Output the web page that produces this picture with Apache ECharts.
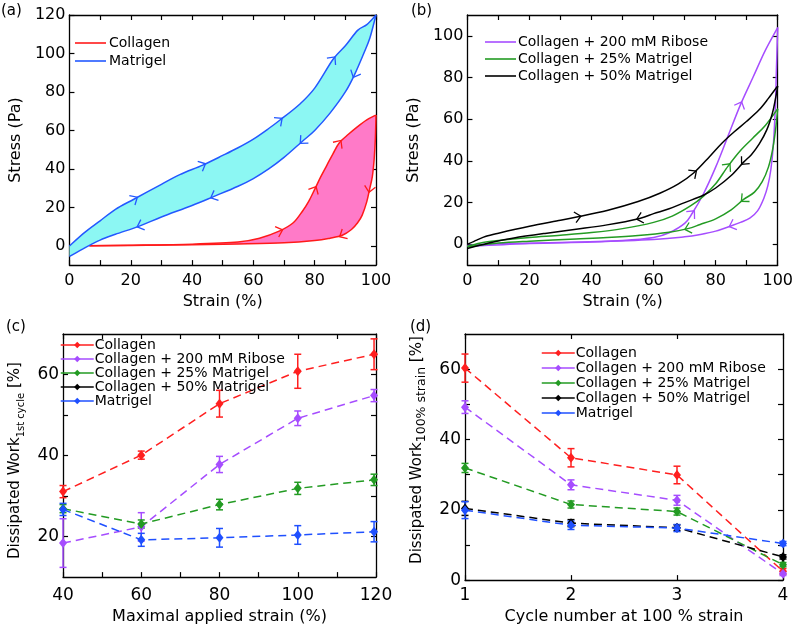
<!DOCTYPE html>
<html><head><meta charset="utf-8">
<script src="https://cdn.jsdelivr.net/npm/echarts@6/dist/echarts.min.js"></script>
<style>
html,body{margin:0;padding:0;background:#fff;}
.p{position:absolute;width:398px;height:315px;}
</style></head>
<body>
<div id="a" class="p" style="left:0;top:0"></div>
<div id="b" class="p" style="left:398px;top:0"></div>
<div id="c" class="p" style="left:0;top:315px"></div>
<div id="d" class="p" style="left:398px;top:315px"></div>
<script>
// ---------- DATA ----------
// Panel (a): stress-strain loops [strain %, stress Pa]
const matrigelLoading = [[0,0],[5,7],[10,13],[15,19],[21.3,24.5],[30,32],[36,37],[43.5,42],[50,47],[55,51],[60,55.5],[65,61],[68.6,65.3],[75,73.5],[80,82],[86,97],[90,104],[94,112],[97,115],[100,120]];
const matrigelUnloading = [[100,120],[98,108],[96,100],[93,89],[90,80],[85,69],[80,60],[76,54.4],[70,46],[65,40],[60,35],[55,31],[47,25.6],[40,21],[30,15],[23,10.4],[15,6],[10,3],[5,-1],[0,-5.5]];
const collagenLoading = [[6.5,0],[20,0.3],[40,0.9],[55,2],[62,4],[68.6,7.8],[73,12],[76,18],[78,23],[80,29.4],[82,36],[84,42],[86,48],[88,53.5],[91,58],[94,62],[97,65.5],[100,68]];
const collagenUnloading = [[100,68],[99.8,56],[99.4,45],[98.8,36],[97.9,29.4],[97,23],[95.5,16],[94,12],[92,8.5],[89,5.5],[85,4],[80,2.8],[70,1.6],[55,1],[40,0.6],[20,0.2],[6.5,0]];
const matrigelArrows = [[21.3,24.5],[43.5,42],[68.6,65.3],[86,97],[93,89],[76,54.4],[47,25.6],[23,10.4]];
const collagenArrows = [[68.6,7.8],[80,29.4],[88,53.5],[97.9,29.4],[89,5.5]];

// Panel (b)
const riboseLoading = [[0,-0.5],[10,0.3],[30,0.8],[50,1.8],[60,3.2],[65,5.5],[70,10],[72.5,15],[76,24],[80,37],[84,52],[88,67],[92,80],[96,93],[100,104]];
const riboseUnloading = [[100,104],[99.6,85],[99.2,65],[98.6,48],[97.8,36],[96.8,28],[95.5,22],[93.5,16],[91,12.5],[88,10.5],[85.3,9],[80,6.3],[75,4.7],[70,3.6],[60,2.3],[40,1.1],[20,0.4],[0,-1]];
const mat25Loading = [[0,-1],[5,0.8],[10,1.8],[20,3.2],[30,4.3],[40,5.6],[50,7.5],[60,10.5],[66,13.5],[72,18.5],[76,23],[80,29],[84,37.5],[88,45],[92,51],[96,57],[100,65]];
const mat25Unloading = [[100,65],[99.3,55],[98.3,45],[97,37],[95,30],[92.5,25],[89,21.5],[85,16.5],[80,12.2],[75,9.5],[71,7.5],[65,5.8],[55,4.2],[45,3.2],[35,2.5],[20,1.5],[10,0.6],[0,-1.2]];
const mat50Loading = [[0,0],[3,2],[6,3.8],[10,5.3],[20,8.6],[30,11.5],[35.6,13.2],[45,16.2],[55,20.5],[62,24.5],[68,29],[73,34.3],[78,42],[82,48.5],[86,54],[90,59],[94,64.5],[97,70],[100,76]];
const mat50Unloading = [[100,76],[99.3,70],[98.3,63],[96.5,55],[94,48],[91.5,43],[89,39.4],[85,33],[80,27],[76,23.5],[70,20],[65,17],[60,14.7],[55.5,12.4],[45,9.3],[35,7.2],[25,5.2],[15,3],[8,1],[0,-2]];
const riboseArrows = [[72.5,15],[88,67],[85.3,9]];
const mat25Arrows = [[84,37.5],[89,21.5],[71,7.5]];
const mat50Arrows = [[35.6,13.2],[73,34.3],[89,39.4],[55.5,12.4]];

// Panel (c): dissipated work vs maximal applied strain
const maxStrain = [40,60,80,100,119.5];
const collagenC = [31.1,40.1,52.8,60.8,65.0];
const collagenCErr = [1.5,1.0,3.3,4.2,3.8];
const riboseC = [18.4,22.4,37.8,49.2,54.8];
const riboseCErr = [6.0,3.5,2.0,1.8,1.5];
const mat25C = [26.9,23.1,27.9,31.9,34.0];
const mat25CErr = [1.0,1.0,1.3,1.5,1.4];
const mat50C = [];
const mat50CErr = [];
const matrigelC = [26.7,19.2,19.7,20.4,21.2];
const matrigelCErr = [1.5,1.6,2.3,2.3,2.5];

// Panel (d): dissipated work vs cycle number
const cycles = [1,2,3,4];
const collagenD = [60.3,34.8,29.9,2.5];
const collagenDErr = [4.0,2.6,2.5,0.8];
const riboseD = [49.2,27.1,22.7,1.8];
const riboseDErr = [1.8,1.4,1.4,0.5];
const mat25D = [31.9,21.5,19.5,4.4];
const mat25DErr = [1.3,1.0,1.0,0.6];
const mat50D = [20.4,16.2,14.9,6.6];
const mat50DErr = [2.0,1.0,0.8,0.6];
const matrigelD = [19.9,15.6,14.8,10.4];
const matrigelDErr = [2.4,1.2,1.0,0.6];

// Tick values
const ticksA_x = [0,10,20,30,40,50,60,70,80,90,100];
const labelsA_x = [0,20,40,60,80,100];
const labelsA_y = [0,20,40,60,80,100,120];
const labelsB_y = [0,20,40,60,80,100];
const ticksC_x = [40,50,60,70,80,90,100,110,120];
const labelsC_x = [40,60,80,100,120];
const ticksC_y = [20,30,40,50,60];
const labelsC_y = [20,40,60];
const ticksD_x = [1,2,3,4];
const ticksD_y = [0,10,20,30,40,50,60];
const labelsD_y = [0,20,40,60];

// ---------- STYLE ----------
const FONT = 'DejaVu Sans, Verdana, sans-serif';
const RED = '#ff1f1f', PURPLE = '#a64dff', GREEN = '#239b23', BLACK = '#000000', BLUE = '#1f50ff';
const A_RED = '#ff1a1a', A_BLUE = '#2358ff', CYAN = '#8cf7f3', PINK = '#ff7ac8';

function xAxes(min, max, ticks, labels, name, nameGap, labelMargin, fs) {
  const line = {onZero:false, lineStyle:{color:'#000', width:1.3}};
  return [
    {type:'value', min, max, position:'bottom', axisLine:line,
     axisTick:{inside:true, length:5, customValues:ticks, lineStyle:{color:'#000', width:1.2}},
     axisLabel:{customValues:labels, color:'#000', fontSize:fs, fontFamily:FONT, margin:labelMargin},
     splitLine:{show:false}, name, nameLocation:'middle', nameGap,
     nameTextStyle:{color:'#000', fontSize:16, fontFamily:FONT}},
    {type:'value', min, max, position:'top', axisLine:line,
     axisTick:{inside:true, length:5, customValues:ticks, lineStyle:{color:'#000', width:1.2}},
     axisLabel:{show:false}, splitLine:{show:false}}
  ];
}
function yAxes(min, max, ticks, labels, name, nameGap, fs, rich) {
  const line = {onZero:false, lineStyle:{color:'#000', width:1.3}};
  const main = {type:'value', min, max, position:'left', axisLine:line,
     axisTick:{inside:true, length:5, customValues:ticks, lineStyle:{color:'#000', width:1.2}},
     axisLabel:{customValues:labels, color:'#000', fontSize:fs, fontFamily:FONT, margin:4},
     splitLine:{show:false}, name, nameLocation:'middle', nameGap, nameRotate:90,
     nameTextStyle:{color:'#000', fontSize:16, fontFamily:FONT}};
  if (rich) main.nameTextStyle.rich = rich;
  return [main,
    {type:'value', min, max, position:'right', axisLine:line,
     axisTick:{inside:true, length:5, customValues:ticks, lineStyle:{color:'#000', width:1.2}},
     axisLabel:{show:false}, splitLine:{show:false}}];
}
function panelLabel(t, left, top) {
  return [{type:'text', left, top, style:{text:t, font:'15px ' + FONT, fill:'#000'}}];
}
// smooth cubic path through pixel points (Catmull-Rom -> Bezier), without the initial move
function bezierSegs(pts) {
  let d = '';
  for (let i = 0; i < pts.length - 1; i++) {
    const p0 = pts[Math.max(0, i-1)], p1 = pts[i], p2 = pts[i+1], p3 = pts[Math.min(pts.length-1, i+2)];
    const k = 1/6;
    const c1 = [p1[0] + (p2[0]-p0[0])*k, p1[1] + (p2[1]-p0[1])*k];
    const c2 = [p2[0] - (p3[0]-p1[0])*k, p2[1] - (p3[1]-p1[1])*k];
    d += ' C' + c1[0].toFixed(2) + ',' + c1[1].toFixed(2) + ' ' + c2[0].toFixed(2) + ',' + c2[1].toFixed(2) + ' ' + p2[0].toFixed(2) + ',' + p2[1].toFixed(2);
  }
  return d;
}
function startM(p) { return 'M' + p[0].toFixed(2) + ',' + p[1].toFixed(2); }
function loopSeries(loading, unloading, color, fill) {
  return {type:'custom', data:[0], silent:true, z:fill ? 1 : 3, animation:false,
    renderItem:(params, api) => {
      const L = loading.map(p => api.coord(p));
      const U = unloading.map(p => api.coord(p));
      if (fill) {
        return {type:'path', shape:{pathData: startM(L[0]) + bezierSegs(L) + bezierSegs(U) + ' Z'},
          style:{fill, stroke:null}};
      }
      return {type:'group', children:[
        {type:'path', shape:{pathData: startM(L[0]) + bezierSegs(L)}, style:{fill:null, stroke:color, lineWidth:1.5}},
        {type:'path', shape:{pathData: startM(U[0]) + bezierSegs(U)}, style:{fill:null, stroke:color, lineWidth:1.5}}]};
    }};
}
function legendLine(name, color) {
  return {type:'line', name, data:[], showSymbol:false, symbol:'none', lineStyle:{color, width:1.5}, itemStyle:{color}};
}
function arrowSeries(curve, arrows, color) {
  return {type:'custom', data:arrows, silent:true, z:4, animation:false,
    renderItem:(params, api) => {
      const p = api.coord([api.value(0), api.value(1)]);
      const px = curve.map(c => api.coord(c));
      let best = 0, bd = Infinity;
      for (let i = 0; i < px.length - 1; i++) {
        const a = px[i], b = px[i+1];
        const vx = b[0]-a[0], vy = b[1]-a[1];
        const L2 = vx*vx + vy*vy || 1;
        let t = ((p[0]-a[0])*vx + (p[1]-a[1])*vy) / L2;
        t = Math.max(0, Math.min(1, t));
        const dx = a[0] + t*vx - p[0], dy = a[1] + t*vy - p[1];
        const d = dx*dx + dy*dy;
        if (d < bd) { bd = d; best = i; }
      }
      const a = px[Math.max(0,best-1)], b = px[Math.min(px.length-1,best+2)];
      let ux = b[0]-a[0], uy = b[1]-a[1];
      const n = Math.hypot(ux, uy) || 1; ux /= n; uy /= n;
      const nx = -uy, ny = ux;
      const L = 6, W = 5.5;
      const tip = [p[0] + ux*3, p[1] + uy*3];
      return {type:'polyline', shape:{points:[
        [tip[0]-L*ux+W*nx, tip[1]-L*uy+W*ny], tip, [tip[0]-L*ux-W*nx, tip[1]-L*uy-W*ny]]},
        style:{stroke:color, lineWidth:1.3, fill:null}};
    }};
}
function dashedSeries(name, xs, ys, color) {
  return {type:'line', name, data: ys.map((v,i) => [xs[i], v]), symbol:'diamond', symbolSize:[8,10],
    showSymbol:true, lineStyle:{color, width:1.5, type:[8,5]}, itemStyle:{color}, z:3, animation:false, silent:true};
}
function errSeries(xs, ys, errs, color) {
  return {type:'custom', data: ys.map((v,i) => [xs[i], v - errs[i], v + errs[i]]), silent:true, z:2, animation:false,
    renderItem:(params, api) => {
      const lo = api.coord([api.value(0), api.value(1)]);
      const hi = api.coord([api.value(0), api.value(2)]);
      const w = 3.5;
      const st = {stroke:color, lineWidth:1.5};
      return {type:'group', children:[
        {type:'line', shape:{x1:lo[0], y1:lo[1], x2:hi[0], y2:hi[1]}, style:st},
        {type:'line', shape:{x1:lo[0]-w, y1:lo[1], x2:lo[0]+w, y2:lo[1]}, style:st},
        {type:'line', shape:{x1:hi[0]-w, y1:hi[1], x2:hi[0]+w, y2:hi[1]}, style:st}]};
    }};
}
const cat = (l, u) => l.concat(u.slice(1));

// ---------- PANEL (a) ----------
const chartA = echarts.init(document.getElementById('a'), null, {renderer:'canvas'});
chartA.setOption({
  animation:false,
  textStyle:{fontFamily:FONT},
  graphic: panelLabel('(a)', 1, 4),
  grid:{left:58, top:15, width:318, height:251},
  xAxis: xAxes(0, 100, ticksA_x, labelsA_x, 'Strain (%)', 24, 8, 16),
  yAxis: yAxes(-10, 120, labelsA_y, labelsA_y, 'Stress (Pa)', 35, 16),
  legend:{orient:'vertical', left:75, top:36, padding:0, itemWidth:31, itemHeight:1.6, icon:'rect', itemGap:4,
    textStyle:{fontSize:14, fontFamily:FONT, color:'#000', padding:[0,0,0,-2]}, data:['Collagen','Matrigel']},
  series:[
    loopSeries(matrigelLoading, matrigelUnloading, A_BLUE, CYAN),
    loopSeries(collagenLoading, collagenUnloading, A_RED, PINK),
    loopSeries(collagenLoading, collagenUnloading, A_RED, null),
    loopSeries(matrigelLoading, matrigelUnloading, A_BLUE, null),
    legendLine('Collagen', A_RED),
    legendLine('Matrigel', A_BLUE),
    arrowSeries(cat(matrigelLoading, matrigelUnloading), matrigelArrows, A_BLUE),
    arrowSeries(cat(collagenLoading, collagenUnloading), collagenArrows, A_RED)
  ]
});

// ---------- PANEL (b) ----------
const chartB = echarts.init(document.getElementById('b'), null, {renderer:'canvas'});
chartB.setOption({
  animation:false,
  textStyle:{fontFamily:FONT},
  graphic: panelLabel('(b)', 13, 4),
  grid:{left:67, top:15, width:318, height:251},
  xAxis: xAxes(0, 100, ticksA_x, labelsA_x, 'Strain (%)', 24, 8, 16),
  yAxis: yAxes(-10, 110, labelsB_y, labelsB_y, 'Stress (Pa)', 35, 16),
  legend:{orient:'vertical', left:87, top:35, padding:0, itemWidth:31, itemHeight:1.6, icon:'rect', itemGap:3,
    textStyle:{fontSize:14, fontFamily:FONT, color:'#000', padding:[0,0,0,-3]},
    data:['Collagen + 200 mM Ribose','Collagen + 25% Matrigel','Collagen + 50% Matrigel']},
  series:[
    loopSeries(riboseLoading, riboseUnloading, PURPLE, null),
    loopSeries(mat25Loading, mat25Unloading, GREEN, null),
    loopSeries(mat50Loading, mat50Unloading, BLACK, null),
    legendLine('Collagen + 200 mM Ribose', PURPLE),
    legendLine('Collagen + 25% Matrigel', GREEN),
    legendLine('Collagen + 50% Matrigel', BLACK),
    arrowSeries(cat(riboseLoading, riboseUnloading), riboseArrows, PURPLE),
    arrowSeries(cat(mat25Loading, mat25Unloading), mat25Arrows, GREEN),
    arrowSeries(cat(mat50Loading, mat50Unloading), mat50Arrows, BLACK)
  ]
});

const richC = {a:{fontSize:15, fontFamily:FONT, color:'#000', lineHeight:22},
               e:{fontSize:15, fontFamily:FONT, color:'#000', lineHeight:22, padding:[0,10,0,0]},
               s:{fontSize:10, fontFamily:FONT, color:'#000', lineHeight:22, verticalAlign:'bottom'}};
const richD = {a:{fontSize:15, fontFamily:FONT, color:'#000', lineHeight:22},
               b:{fontSize:15, fontFamily:FONT, color:'#000', lineHeight:22, padding:[0,0,0,14]},
               s:{fontSize:12.5, fontFamily:FONT, color:'#000', lineHeight:22, verticalAlign:'bottom'}};

// ---------- PANEL (c) ----------
const namesCD = ['Collagen','Collagen + 200 mM Ribose','Collagen + 25% Matrigel','Collagen + 50% Matrigel','Matrigel'];
const chartC = echarts.init(document.getElementById('c'), null, {renderer:'canvas'});
chartC.setOption({
  animation:false,
  textStyle:{fontFamily:FONT},
  graphic: panelLabel('(c)', 6, 5),
  grid:{left:58, top:19, width:318, height:249},
  xAxis: xAxes(40, 120, ticksC_x, labelsC_x, 'Maximal applied strain (%)', 26, 10, 17),
  yAxis: yAxes(10, 70, ticksC_y, labelsC_y, '{a|Dissipated Work}{s|1st cycle}{e| [%]}', 30, 17, richC),
  legend:{orient:'vertical', left:60, top:23, padding:0, itemWidth:33, itemHeight:8, itemGap:0,
    lineStyle:{type:'solid', width:1.5},
    textStyle:{fontSize:14, lineHeight:14, fontFamily:FONT, color:'#000', padding:[0,0,0,-4]}, data:namesCD},
  series:[
    errSeries(maxStrain, collagenC, collagenCErr, RED),
    errSeries(maxStrain, riboseC, riboseCErr, PURPLE),
    errSeries(maxStrain, mat25C, mat25CErr, GREEN),
    errSeries(maxStrain, mat50C, mat50CErr, BLACK),
    errSeries(maxStrain, matrigelC, matrigelCErr, BLUE),
    dashedSeries(namesCD[0], maxStrain, collagenC, RED),
    dashedSeries(namesCD[1], maxStrain, riboseC, PURPLE),
    dashedSeries(namesCD[2], maxStrain, mat25C, GREEN),
    dashedSeries(namesCD[3], maxStrain, mat50C, BLACK),
    dashedSeries(namesCD[4], maxStrain, matrigelC, BLUE)
  ]
});

// ---------- PANEL (d) ----------
const chartD = echarts.init(document.getElementById('d'), null, {renderer:'canvas'});
chartD.setOption({
  animation:false,
  textStyle:{fontFamily:FONT},
  graphic: panelLabel('(d)', 12, 5),
  grid:{left:67, top:19, width:318, height:252},
  xAxis: xAxes(1, 4, ticksD_x, ticksD_x, 'Cycle number at 100 % strain', 23, 7, 17),
  yAxis: yAxes(0, 70, ticksD_y, labelsD_y, '{b|Dissipated Work}{s|100% strain}{a| [%]}', 29, 17, richD),
  legend:{orient:'vertical', left:143, top:31, padding:0, itemWidth:33, itemHeight:8, itemGap:1,
    lineStyle:{type:'solid', width:1.5},
    textStyle:{fontSize:14, lineHeight:14, fontFamily:FONT, color:'#000', padding:[0,0,0,-4]}, data:namesCD},
  series:[
    errSeries(cycles, collagenD, collagenDErr, RED),
    errSeries(cycles, riboseD, riboseDErr, PURPLE),
    errSeries(cycles, mat25D, mat25DErr, GREEN),
    errSeries(cycles, mat50D, mat50DErr, BLACK),
    errSeries(cycles, matrigelD, matrigelDErr, BLUE),
    dashedSeries(namesCD[0], cycles, collagenD, RED),
    dashedSeries(namesCD[1], cycles, riboseD, PURPLE),
    dashedSeries(namesCD[2], cycles, mat25D, GREEN),
    dashedSeries(namesCD[3], cycles, mat50D, BLACK),
    dashedSeries(namesCD[4], cycles, matrigelD, BLUE)
  ]
});
</script>
</body></html>
